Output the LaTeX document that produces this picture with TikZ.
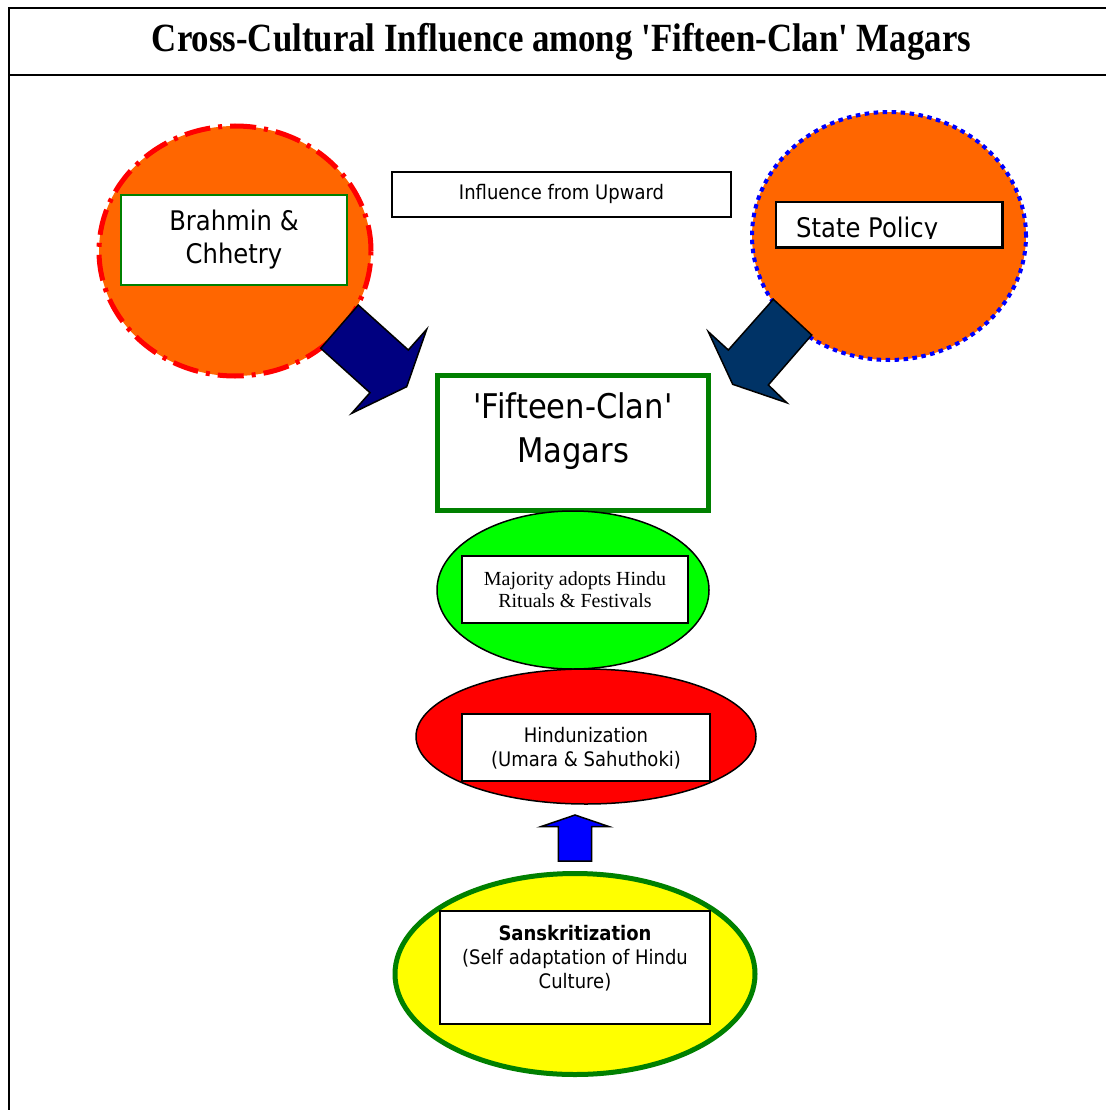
\documentclass[tikz,border=0pt]{standalone}
\usepackage{fontspec}
\setmainfont{Liberation Serif}
\newfontfamily\tnr{Liberation Serif}
\newfontfamily\tah[FakeStretch=0.9]{DejaVu Sans}
\usetikzlibrary{shapes.geometric}
\definecolor{orng}{HTML}{FF6600}
\definecolor{navyA}{HTML}{000080}
\definecolor{navyB}{HTML}{003366}
\definecolor{grn}{HTML}{008000}
\definecolor{lime}{HTML}{00FF00}
\definecolor{yel}{HTML}{FFFF00}
\tikzset{
  circ/.style={ellipse, fill=orng, inner sep=0pt, minimum width=272pt, minimum height=250pt},
  txtbox/.style={rectangle, draw=black, fill=white, line width=1.5pt, inner sep=0pt},
  oval/.style={ellipse, inner sep=0pt, draw=black, line width=1.5pt},
  blockarrow/.style={draw=black, line width=1.5pt, line join=miter},
  lbl/.style={inner sep=0pt, align=center, anchor=base}
}
\begin{document}
\begin{tikzpicture}[x=1pt,y=-1pt]
\useasboundingbox (0,0) rectangle (1105,1110);
% frame
\draw[line width=2pt] (9,1115) -- (9,8) -- (1110,8);
\draw[line width=2pt] (9,75) -- (1110,75);
\node[inner sep=0pt, anchor=base] (title) at (561.5,52)
  {\scalebox{0.87}[1]{\tnr\fontsize{40}{48}\selectfont\bfseries Cross-Cultural Influence among 'Fifteen-Clan' Magars}};

% left circle
\node[circ, draw=red, line width=5pt, dash pattern=on 26pt off 8pt on 4pt off 8pt] (brc) at (235,251) {};
\node[txtbox, draw=grn, minimum width=226pt, minimum height=90pt] (brbox) at (234,240) {};
\node[lbl, font=\tah\fontsize{27}{33}\selectfont] (brtxt) at (234,263) {Brahmin \&\\Chhetry};

% right circle
\node[circ, draw=blue, line width=4pt, dash pattern=on 4.5pt off 4.5pt, minimum width=274pt, minimum height=248pt] (stc) at (889,236) {};
\node[txtbox, minimum width=226pt, minimum height=45pt] (stbox) at (889,224.5) {};
\begin{scope}
  \clip (777,203) rectangle (1001,238);
  \node[inner sep=0pt, anchor=base west, font=\tah\fontsize{27}{33}\selectfont] (sttxt) at (796,237) {State Policy};
\end{scope}
\draw[line width=1.5pt] (stbox.south west) rectangle (stbox.north east);

% influence label
\node[txtbox, minimum width=339pt, minimum height=45pt] (infl) at (561.5,194.5) {};
\node[lbl, font=\tah\fontsize{20}{24}\selectfont] (infltxt) at (561.5,200) {Influence from Upward};

% block arrows from circles
\filldraw[blockarrow, fill=navyA] (320.7,348.3) -- (358.3,305) -- (408.3,350) -- (426.7,329.3)
  -- (406.7,386.7) -- (351.7,413.3) -- (370,392.7) -- cycle;
\filldraw[blockarrow, fill=navyB] (773.3,299.3) -- (811.7,335) -- (768.3,385) -- (786.7,402.7)
  -- (732.7,384.3) -- (708.3,331.7) -- (728.3,350) -- cycle;

% Fifteen-Clan box
\node[rectangle, draw=grn, fill=white, line width=5pt, inner sep=0pt, minimum width=270.5pt, minimum height=135pt] (mag) at (572.75,443) {};
\node[lbl, font=\tah\fontsize{34}{44}\selectfont] (magtxt) at (573,462) {'Fifteen-Clan'\\Magars};

% green ellipse
\node[oval, fill=lime, minimum width=272pt, minimum height=158pt] (maj) at (573,590) {};
\node[txtbox, minimum width=226pt, minimum height=67pt] (majbox) at (575,589.5) {};
\node[lbl, font=\tnr\fontsize{20}{22}\selectfont] (majtxt) at (575,607) {Majority adopts Hindu\\Rituals \& Festivals};

% red ellipse
\node[oval, fill=red, minimum width=340pt, minimum height=135pt] (hin) at (586,736.5) {};
\node[txtbox, minimum width=248pt, minimum height=67pt] (hinbox) at (586,747.5) {};
\node[lbl, font=\tah\fontsize{20}{24}\selectfont] (hintxt) at (586,766) {Hindunization\\(Umara \& Sahuthoki)};

% up arrow
\filldraw[blockarrow, fill=blue] (575,815) -- (609.3,826.7) -- (591.7,826.7) -- (591.7,861)
  -- (558.3,861) -- (558.3,826.7) -- (540.7,826.7) -- cycle;

% yellow ellipse
\node[ellipse, draw=grn, fill=yel, line width=5pt, inner sep=0pt, minimum width=360pt, minimum height=201pt] (san) at (575,974) {};
\node[txtbox, minimum width=270pt, minimum height=113pt] (sanbox) at (575,967.5) {};
\node[lbl, font=\tah\fontsize{20}{24}\selectfont] (santxt) at (575,988) {\textbf{Sanskritization}\\(Self adaptation of Hindu\\Culture)};
\end{tikzpicture}
\end{document}
